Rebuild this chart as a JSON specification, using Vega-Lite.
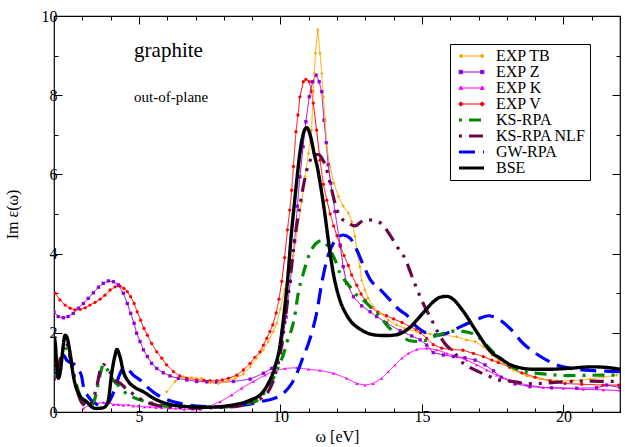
{
"$schema": "https://vega.github.io/schema/vega-lite/v6.json",
"width": 566, "height": 396,
"autosize": {"type": "none"},
"padding": {"left": 54, "top": 16, "right": 5, "bottom": 35},
"background": "white",
"config": {"font": "Liberation Serif", "view": {"stroke": "black", "strokeWidth": 1.2}},
"datasets": {"d": [
{"s":"BSE","x":2.0,"y":1.9},{"s":"BSE","x":2.05,"y":1.7},{"s":"BSE","x":2.1,"y":1.14},{"s":"BSE","x":2.15,"y":0.85},{"s":"BSE","x":2.22,"y":1.0},{"s":"BSE","x":2.3,"y":1.5},{"s":"BSE","x":2.39,"y":1.94},{"s":"BSE","x":2.45,"y":1.9},{"s":"BSE","x":2.57,"y":1.48},{"s":"BSE","x":2.68,"y":0.93},{"s":"BSE","x":2.78,"y":0.62},{"s":"BSE","x":2.86,"y":0.47},{"s":"BSE","x":2.98,"y":0.35},{"s":"BSE","x":3.15,"y":0.26},{"s":"BSE","x":3.33,"y":0.13},{"s":"BSE","x":3.5,"y":0.09},{"s":"BSE","x":3.7,"y":0.1},{"s":"BSE","x":3.83,"y":0.15},{"s":"BSE","x":3.92,"y":0.3},{"s":"BSE","x":4.04,"y":0.98},{"s":"BSE","x":4.16,"y":1.44},{"s":"BSE","x":4.22,"y":1.58},{"s":"BSE","x":4.33,"y":1.4},{"s":"BSE","x":4.45,"y":1.02},{"s":"BSE","x":4.63,"y":0.77},{"s":"BSE","x":4.86,"y":0.62},{"s":"BSE","x":5.16,"y":0.51},{"s":"BSE","x":5.51,"y":0.35},{"s":"BSE","x":5.86,"y":0.24},{"s":"BSE","x":6.45,"y":0.15},{"s":"BSE","x":7.4,"y":0.12},{"s":"BSE","x":8.34,"y":0.18},{"s":"BSE","x":8.93,"y":0.3},{"s":"BSE","x":9.34,"y":0.47},{"s":"BSE","x":9.57,"y":0.72},{"s":"BSE","x":9.81,"y":1.14},{"s":"BSE","x":10.0,"y":1.75},{"s":"BSE","x":10.1,"y":2.3},{"s":"BSE","x":10.25,"y":3.3},{"s":"BSE","x":10.4,"y":4.6},{"s":"BSE","x":10.46,"y":5.02},{"s":"BSE","x":10.58,"y":5.86},{"s":"BSE","x":10.7,"y":6.6},{"s":"BSE","x":10.8,"y":7.0},{"s":"BSE","x":10.93,"y":7.18},{"s":"BSE","x":11.05,"y":7.0},{"s":"BSE","x":11.2,"y":6.5},{"s":"BSE","x":11.3,"y":6.2},{"s":"BSE","x":11.4,"y":5.8},{"s":"BSE","x":11.5,"y":5.35},{"s":"BSE","x":11.58,"y":4.95},{"s":"BSE","x":11.7,"y":4.3},{"s":"BSE","x":11.87,"y":3.5},{"s":"BSE","x":12.1,"y":2.83},{"s":"BSE","x":12.3,"y":2.5},{"s":"BSE","x":12.5,"y":2.28},{"s":"BSE","x":12.8,"y":2.1},{"s":"BSE","x":13.05,"y":2.0},{"s":"BSE","x":13.4,"y":1.94},{"s":"BSE","x":13.7,"y":1.93},{"s":"BSE","x":14.0,"y":1.94},{"s":"BSE","x":14.3,"y":2.0},{"s":"BSE","x":14.6,"y":2.15},{"s":"BSE","x":14.82,"y":2.32},{"s":"BSE","x":15.1,"y":2.55},{"s":"BSE","x":15.4,"y":2.78},{"s":"BSE","x":15.65,"y":2.9},{"s":"BSE","x":15.88,"y":2.92},{"s":"BSE","x":16.1,"y":2.85},{"s":"BSE","x":16.35,"y":2.65},{"s":"BSE","x":16.6,"y":2.4},{"s":"BSE","x":16.82,"y":2.15},{"s":"BSE","x":17.05,"y":1.9},{"s":"BSE","x":17.29,"y":1.65},{"s":"BSE","x":17.5,"y":1.48},{"s":"BSE","x":17.76,"y":1.36},{"s":"BSE","x":18.05,"y":1.22},{"s":"BSE","x":18.35,"y":1.14},{"s":"BSE","x":18.94,"y":1.08},{"s":"BSE","x":19.5,"y":1.08},{"s":"BSE","x":20.12,"y":1.1},{"s":"BSE","x":21.05,"y":1.14},{"s":"BSE","x":21.6,"y":1.12},{"s":"BSE","x":22.0,"y":1.08},
{"s":"EXP V","x":2.04,"y":3.0},{"s":"EXP V","x":2.21,"y":2.83},{"s":"EXP V","x":2.39,"y":2.7},{"s":"EXP V","x":2.57,"y":2.62},{"s":"EXP V","x":2.74,"y":2.58},{"s":"EXP V","x":2.92,"y":2.59},{"s":"EXP V","x":3.1,"y":2.63},{"s":"EXP V","x":3.27,"y":2.7},{"s":"EXP V","x":3.45,"y":2.77},{"s":"EXP V","x":3.63,"y":2.85},{"s":"EXP V","x":3.8,"y":2.95},{"s":"EXP V","x":3.98,"y":3.08},{"s":"EXP V","x":4.16,"y":3.16},{"s":"EXP V","x":4.33,"y":3.18},{"s":"EXP V","x":4.47,"y":3.12},{"s":"EXP V","x":4.59,"y":3.04},{"s":"EXP V","x":4.71,"y":2.91},{"s":"EXP V","x":4.83,"y":2.74},{"s":"EXP V","x":4.94,"y":2.53},{"s":"EXP V","x":5.06,"y":2.32},{"s":"EXP V","x":5.18,"y":2.11},{"s":"EXP V","x":5.3,"y":1.94},{"s":"EXP V","x":5.45,"y":1.73},{"s":"EXP V","x":5.63,"y":1.52},{"s":"EXP V","x":5.81,"y":1.36},{"s":"EXP V","x":5.98,"y":1.19},{"s":"EXP V","x":6.22,"y":1.02},{"s":"EXP V","x":6.45,"y":0.91},{"s":"EXP V","x":6.69,"y":0.85},{"s":"EXP V","x":7.04,"y":0.81},{"s":"EXP V","x":7.3,"y":0.8},{"s":"EXP V","x":7.51,"y":0.79},{"s":"EXP V","x":7.75,"y":0.79},{"s":"EXP V","x":7.95,"y":0.81},{"s":"EXP V","x":8.16,"y":0.85},{"s":"EXP V","x":8.46,"y":0.93},{"s":"EXP V","x":8.69,"y":1.06},{"s":"EXP V","x":8.93,"y":1.23},{"s":"EXP V","x":9.1,"y":1.38},{"s":"EXP V","x":9.28,"y":1.52},{"s":"EXP V","x":9.4,"y":1.69},{"s":"EXP V","x":9.52,"y":1.86},{"s":"EXP V","x":9.63,"y":2.03},{"s":"EXP V","x":9.73,"y":2.2},{"s":"EXP V","x":9.85,"y":2.5},{"s":"EXP V","x":9.95,"y":2.85},{"s":"EXP V","x":10.05,"y":3.3},{"s":"EXP V","x":10.15,"y":3.9},{"s":"EXP V","x":10.25,"y":4.6},{"s":"EXP V","x":10.33,"y":5.1},{"s":"EXP V","x":10.4,"y":5.6},{"s":"EXP V","x":10.46,"y":6.2},{"s":"EXP V","x":10.55,"y":7.08},{"s":"EXP V","x":10.62,"y":7.5},{"s":"EXP V","x":10.69,"y":7.96},{"s":"EXP V","x":10.81,"y":8.34},{"s":"EXP V","x":10.9,"y":8.4},{"s":"EXP V","x":11.02,"y":8.34},{"s":"EXP V","x":11.1,"y":8.1},{"s":"EXP V","x":11.16,"y":7.8},{"s":"EXP V","x":11.28,"y":7.12},{"s":"EXP V","x":11.4,"y":6.36},{"s":"EXP V","x":11.52,"y":5.75},{"s":"EXP V","x":11.64,"y":5.35},{"s":"EXP V","x":11.76,"y":5.0},{"s":"EXP V","x":11.88,"y":4.7},{"s":"EXP V","x":12.0,"y":4.45},{"s":"EXP V","x":12.12,"y":4.18},{"s":"EXP V","x":12.25,"y":3.95},{"s":"EXP V","x":12.4,"y":3.7},{"s":"EXP V","x":12.52,"y":3.46},{"s":"EXP V","x":12.7,"y":3.2},{"s":"EXP V","x":12.85,"y":2.98},{"s":"EXP V","x":13.0,"y":2.82},{"s":"EXP V","x":13.2,"y":2.65},{"s":"EXP V","x":13.45,"y":2.52},{"s":"EXP V","x":13.75,"y":2.43},{"s":"EXP V","x":14.0,"y":2.35},{"s":"EXP V","x":14.3,"y":2.26},{"s":"EXP V","x":14.6,"y":2.15},{"s":"EXP V","x":14.8,"y":2.08},{"s":"EXP V","x":14.95,"y":2.0},{"s":"EXP V","x":15.17,"y":1.86},{"s":"EXP V","x":15.4,"y":1.7},{"s":"EXP V","x":15.7,"y":1.61},{"s":"EXP V","x":16.05,"y":1.58},{"s":"EXP V","x":16.45,"y":1.56},{"s":"EXP V","x":16.82,"y":1.48},{"s":"EXP V","x":17.17,"y":1.4},{"s":"EXP V","x":17.47,"y":1.31},{"s":"EXP V","x":17.7,"y":1.25},{"s":"EXP V","x":18.1,"y":1.13},{"s":"EXP V","x":18.53,"y":0.99},{"s":"EXP V","x":19.0,"y":0.88},{"s":"EXP V","x":19.53,"y":0.79},{"s":"EXP V","x":20.06,"y":0.72},{"s":"EXP V","x":20.65,"y":0.7},{"s":"EXP V","x":21.4,"y":0.68},{"s":"EXP V","x":21.95,"y":0.68},
{"s":"EXP Z","x":2.0,"y":2.53},{"s":"EXP Z","x":2.15,"y":2.41},{"s":"EXP Z","x":2.33,"y":2.38},{"s":"EXP Z","x":2.5,"y":2.41},{"s":"EXP Z","x":2.68,"y":2.49},{"s":"EXP Z","x":2.86,"y":2.62},{"s":"EXP Z","x":3.04,"y":2.74},{"s":"EXP Z","x":3.21,"y":2.87},{"s":"EXP Z","x":3.39,"y":3.01},{"s":"EXP Z","x":3.57,"y":3.15},{"s":"EXP Z","x":3.74,"y":3.25},{"s":"EXP Z","x":3.92,"y":3.31},{"s":"EXP Z","x":4.1,"y":3.29},{"s":"EXP Z","x":4.27,"y":3.21},{"s":"EXP Z","x":4.45,"y":3.0},{"s":"EXP Z","x":4.59,"y":2.74},{"s":"EXP Z","x":4.71,"y":2.49},{"s":"EXP Z","x":4.83,"y":2.24},{"s":"EXP Z","x":4.92,"y":1.99},{"s":"EXP Z","x":5.04,"y":1.78},{"s":"EXP Z","x":5.16,"y":1.57},{"s":"EXP Z","x":5.3,"y":1.4},{"s":"EXP Z","x":5.45,"y":1.23},{"s":"EXP Z","x":5.63,"y":1.1},{"s":"EXP Z","x":5.86,"y":0.99},{"s":"EXP Z","x":6.1,"y":0.91},{"s":"EXP Z","x":6.39,"y":0.85},{"s":"EXP Z","x":6.69,"y":0.81},{"s":"EXP Z","x":7.04,"y":0.77},{"s":"EXP Z","x":7.4,"y":0.76},{"s":"EXP Z","x":7.75,"y":0.75},{"s":"EXP Z","x":8.34,"y":0.77},{"s":"EXP Z","x":8.93,"y":0.83},{"s":"EXP Z","x":9.4,"y":0.98},{"s":"EXP Z","x":9.69,"y":1.1},{"s":"EXP Z","x":9.9,"y":1.3},{"s":"EXP Z","x":10.05,"y":1.7},{"s":"EXP Z","x":10.2,"y":2.4},{"s":"EXP Z","x":10.35,"y":3.3},{"s":"EXP Z","x":10.5,"y":4.3},{"s":"EXP Z","x":10.6,"y":5.2},{"s":"EXP Z","x":10.69,"y":5.94},{"s":"EXP Z","x":10.8,"y":6.7},{"s":"EXP Z","x":10.9,"y":7.33},{"s":"EXP Z","x":11.02,"y":7.96},{"s":"EXP Z","x":11.14,"y":8.34},{"s":"EXP Z","x":11.26,"y":8.51},{"s":"EXP Z","x":11.37,"y":8.34},{"s":"EXP Z","x":11.46,"y":8.09},{"s":"EXP Z","x":11.54,"y":7.37},{"s":"EXP Z","x":11.62,"y":6.8},{"s":"EXP Z","x":11.69,"y":6.24},{"s":"EXP Z","x":11.78,"y":5.78},{"s":"EXP Z","x":11.93,"y":5.06},{"s":"EXP Z","x":12.11,"y":4.22},{"s":"EXP Z","x":12.22,"y":3.67},{"s":"EXP Z","x":12.34,"y":3.25},{"s":"EXP Z","x":12.58,"y":2.91},{"s":"EXP Z","x":12.87,"y":2.68},{"s":"EXP Z","x":13.17,"y":2.53},{"s":"EXP Z","x":13.4,"y":2.41},{"s":"EXP Z","x":13.75,"y":2.25},{"s":"EXP Z","x":14.23,"y":2.05},{"s":"EXP Z","x":14.64,"y":1.92},{"s":"EXP Z","x":14.94,"y":1.82},{"s":"EXP Z","x":15.17,"y":1.69},{"s":"EXP Z","x":15.4,"y":1.5},{"s":"EXP Z","x":15.76,"y":1.44},{"s":"EXP Z","x":16.11,"y":1.4},{"s":"EXP Z","x":16.52,"y":1.37},{"s":"EXP Z","x":16.88,"y":1.31},{"s":"EXP Z","x":17.23,"y":1.19},{"s":"EXP Z","x":17.53,"y":1.04},{"s":"EXP Z","x":17.8,"y":0.88},{"s":"EXP Z","x":18.29,"y":0.71},{"s":"EXP Z","x":18.82,"y":0.64},{"s":"EXP Z","x":19.58,"y":0.61},{"s":"EXP Z","x":20.47,"y":0.6},{"s":"EXP Z","x":21.17,"y":0.61},{"s":"EXP Z","x":21.53,"y":0.68},{"s":"EXP Z","x":22.0,"y":0.62},
{"s":"EXP TB","x":5.98,"y":0.51},{"s":"EXP TB","x":6.28,"y":0.77},{"s":"EXP TB","x":6.57,"y":0.89},{"s":"EXP TB","x":6.87,"y":0.87},{"s":"EXP TB","x":7.22,"y":0.85},{"s":"EXP TB","x":7.51,"y":0.74},{"s":"EXP TB","x":7.8,"y":0.72},{"s":"EXP TB","x":8.1,"y":0.77},{"s":"EXP TB","x":8.4,"y":0.85},{"s":"EXP TB","x":8.69,"y":0.96},{"s":"EXP TB","x":8.93,"y":1.14},{"s":"EXP TB","x":9.16,"y":1.36},{"s":"EXP TB","x":9.4,"y":1.57},{"s":"EXP TB","x":9.57,"y":1.78},{"s":"EXP TB","x":9.75,"y":2.03},{"s":"EXP TB","x":9.87,"y":2.24},{"s":"EXP TB","x":10.0,"y":2.6},{"s":"EXP TB","x":10.15,"y":3.1},{"s":"EXP TB","x":10.3,"y":3.55},{"s":"EXP TB","x":10.46,"y":3.95},{"s":"EXP TB","x":10.6,"y":4.6},{"s":"EXP TB","x":10.75,"y":5.31},{"s":"EXP TB","x":10.87,"y":5.94},{"s":"EXP TB","x":10.99,"y":6.53},{"s":"EXP TB","x":11.1,"y":7.12},{"s":"EXP TB","x":11.16,"y":8.09},{"s":"EXP TB","x":11.2,"y":8.55},{"s":"EXP TB","x":11.24,"y":9.06},{"s":"EXP TB","x":11.32,"y":9.65},{"s":"EXP TB","x":11.4,"y":9.06},{"s":"EXP TB","x":11.46,"y":8.55},{"s":"EXP TB","x":11.52,"y":7.96},{"s":"EXP TB","x":11.58,"y":7.37},{"s":"EXP TB","x":11.64,"y":6.7},{"s":"EXP TB","x":11.75,"y":6.2},{"s":"EXP TB","x":11.89,"y":5.78},{"s":"EXP TB","x":12.05,"y":5.44},{"s":"EXP TB","x":12.22,"y":5.2},{"s":"EXP TB","x":12.4,"y":5.02},{"s":"EXP TB","x":12.52,"y":4.81},{"s":"EXP TB","x":12.64,"y":4.43},{"s":"EXP TB","x":12.7,"y":4.05},{"s":"EXP TB","x":12.81,"y":3.67},{"s":"EXP TB","x":12.87,"y":3.33},{"s":"EXP TB","x":12.99,"y":3.08},{"s":"EXP TB","x":13.1,"y":2.87},{"s":"EXP TB","x":13.28,"y":2.66},{"s":"EXP TB","x":13.52,"y":2.5},{"s":"EXP TB","x":13.81,"y":2.32},{"s":"EXP TB","x":14.1,"y":2.2},{"s":"EXP TB","x":14.4,"y":2.11},{"s":"EXP TB","x":14.82,"y":2.03},{"s":"EXP TB","x":15.29,"y":1.97},{"s":"EXP TB","x":15.76,"y":1.94},{"s":"EXP TB","x":16.23,"y":1.9},{"s":"EXP TB","x":16.58,"y":1.82},{"s":"EXP TB","x":16.88,"y":1.78},{"s":"EXP TB","x":17.17,"y":1.65},{"s":"EXP TB","x":17.47,"y":1.44},{"s":"EXP TB","x":17.7,"y":1.31},{"s":"EXP TB","x":17.88,"y":1.22},{"s":"EXP TB","x":18.23,"y":1.06},{"s":"EXP TB","x":18.7,"y":0.91},{"s":"EXP TB","x":19.17,"y":0.83},{"s":"EXP TB","x":19.76,"y":0.79},{"s":"EXP TB","x":20.35,"y":0.79},{"s":"EXP TB","x":20.94,"y":0.83},{"s":"EXP TB","x":21.41,"y":0.88},{"s":"EXP TB","x":21.88,"y":0.93},
{"s":"EXP K","x":3.04,"y":0.09},{"s":"EXP K","x":3.25,"y":0.18},{"s":"EXP K","x":3.51,"y":0.22},{"s":"EXP K","x":3.75,"y":0.24},{"s":"EXP K","x":3.92,"y":0.24},{"s":"EXP K","x":4.1,"y":0.19},{"s":"EXP K","x":4.27,"y":0.19},{"s":"EXP K","x":4.45,"y":0.17},{"s":"EXP K","x":4.63,"y":0.18},{"s":"EXP K","x":4.8,"y":0.15},{"s":"EXP K","x":4.98,"y":0.15},{"s":"EXP K","x":5.2,"y":0.13},{"s":"EXP K","x":5.39,"y":0.13},{"s":"EXP K","x":5.6,"y":0.11},{"s":"EXP K","x":5.8,"y":0.11},{"s":"EXP K","x":6.05,"y":0.1},{"s":"EXP K","x":6.3,"y":0.09},{"s":"EXP K","x":6.6,"y":0.07},{"s":"EXP K","x":6.9,"y":0.07},{"s":"EXP K","x":7.16,"y":0.07},{"s":"EXP K","x":7.4,"y":0.12},{"s":"EXP K","x":7.87,"y":0.26},{"s":"EXP K","x":8.28,"y":0.43},{"s":"EXP K","x":8.63,"y":0.6},{"s":"EXP K","x":9.04,"y":0.77},{"s":"EXP K","x":9.46,"y":0.93},{"s":"EXP K","x":9.81,"y":1.04},{"s":"EXP K","x":10.16,"y":1.1},{"s":"EXP K","x":10.58,"y":1.12},{"s":"EXP K","x":10.99,"y":1.08},{"s":"EXP K","x":11.4,"y":1.05},{"s":"EXP K","x":11.87,"y":0.98},{"s":"EXP K","x":12.34,"y":0.85},{"s":"EXP K","x":12.7,"y":0.72},{"s":"EXP K","x":12.99,"y":0.68},{"s":"EXP K","x":13.28,"y":0.72},{"s":"EXP K","x":13.58,"y":0.85},{"s":"EXP K","x":13.81,"y":1.02},{"s":"EXP K","x":14.05,"y":1.19},{"s":"EXP K","x":14.29,"y":1.36},{"s":"EXP K","x":14.52,"y":1.48},{"s":"EXP K","x":14.82,"y":1.58},{"s":"EXP K","x":15.17,"y":1.61},{"s":"EXP K","x":15.52,"y":1.57},{"s":"EXP K","x":15.88,"y":1.48},{"s":"EXP K","x":16.23,"y":1.4},{"s":"EXP K","x":16.58,"y":1.31},{"s":"EXP K","x":16.94,"y":1.19},{"s":"EXP K","x":17.29,"y":1.06},{"s":"EXP K","x":17.64,"y":0.93},{"s":"EXP K","x":18.11,"y":0.81},{"s":"EXP K","x":18.7,"y":0.68},{"s":"EXP K","x":19.29,"y":0.62},{"s":"EXP K","x":20.0,"y":0.6},{"s":"EXP K","x":20.7,"y":0.57},{"s":"EXP K","x":21.41,"y":0.56},{"s":"EXP K","x":22.0,"y":0.54},
{"s":"GW-RPA","x":2.0,"y":0.89},{"s":"GW-RPA","x":2.1,"y":1.0},{"s":"GW-RPA","x":2.2,"y":1.25},{"s":"GW-RPA","x":2.33,"y":1.44},{"s":"GW-RPA","x":2.45,"y":1.31},{"s":"GW-RPA","x":2.62,"y":1.23},{"s":"GW-RPA","x":2.74,"y":1.19},{"s":"GW-RPA","x":2.88,"y":1.05},{"s":"GW-RPA","x":2.98,"y":0.89},{"s":"GW-RPA","x":3.04,"y":0.64},{"s":"GW-RPA","x":3.21,"y":0.39},{"s":"GW-RPA","x":3.45,"y":0.22},{"s":"GW-RPA","x":3.74,"y":0.15},{"s":"GW-RPA","x":3.98,"y":0.3},{"s":"GW-RPA","x":4.16,"y":0.6},{"s":"GW-RPA","x":4.31,"y":0.93},{"s":"GW-RPA","x":4.45,"y":1.1},{"s":"GW-RPA","x":4.6,"y":1.08},{"s":"GW-RPA","x":4.8,"y":0.93},{"s":"GW-RPA","x":5.04,"y":0.81},{"s":"GW-RPA","x":5.28,"y":0.64},{"s":"GW-RPA","x":5.57,"y":0.47},{"s":"GW-RPA","x":5.86,"y":0.35},{"s":"GW-RPA","x":6.22,"y":0.26},{"s":"GW-RPA","x":6.57,"y":0.2},{"s":"GW-RPA","x":7.04,"y":0.15},{"s":"GW-RPA","x":7.75,"y":0.13},{"s":"GW-RPA","x":8.34,"y":0.15},{"s":"GW-RPA","x":8.93,"y":0.2},{"s":"GW-RPA","x":9.28,"y":0.26},{"s":"GW-RPA","x":9.81,"y":0.35},{"s":"GW-RPA","x":10.16,"y":0.51},{"s":"GW-RPA","x":10.4,"y":0.72},{"s":"GW-RPA","x":10.63,"y":1.06},{"s":"GW-RPA","x":10.81,"y":1.4},{"s":"GW-RPA","x":10.99,"y":1.73},{"s":"GW-RPA","x":11.1,"y":1.98},{"s":"GW-RPA","x":11.28,"y":2.5},{"s":"GW-RPA","x":11.46,"y":3.25},{"s":"GW-RPA","x":11.64,"y":3.84},{"s":"GW-RPA","x":11.87,"y":4.26},{"s":"GW-RPA","x":12.05,"y":4.42},{"s":"GW-RPA","x":12.22,"y":4.47},{"s":"GW-RPA","x":12.46,"y":4.39},{"s":"GW-RPA","x":12.7,"y":4.09},{"s":"GW-RPA","x":12.93,"y":3.71},{"s":"GW-RPA","x":13.17,"y":3.35},{"s":"GW-RPA","x":13.52,"y":3.1},{"s":"GW-RPA","x":13.87,"y":2.83},{"s":"GW-RPA","x":14.2,"y":2.58},{"s":"GW-RPA","x":14.46,"y":2.45},{"s":"GW-RPA","x":14.82,"y":2.15},{"s":"GW-RPA","x":15.17,"y":1.99},{"s":"GW-RPA","x":15.58,"y":1.94},{"s":"GW-RPA","x":15.88,"y":1.99},{"s":"GW-RPA","x":16.35,"y":2.15},{"s":"GW-RPA","x":16.76,"y":2.28},{"s":"GW-RPA","x":17.05,"y":2.37},{"s":"GW-RPA","x":17.35,"y":2.43},{"s":"GW-RPA","x":17.6,"y":2.38},{"s":"GW-RPA","x":17.76,"y":2.32},{"s":"GW-RPA","x":18.11,"y":2.11},{"s":"GW-RPA","x":18.58,"y":1.73},{"s":"GW-RPA","x":18.94,"y":1.52},{"s":"GW-RPA","x":19.41,"y":1.31},{"s":"GW-RPA","x":19.88,"y":1.16},{"s":"GW-RPA","x":20.47,"y":1.08},{"s":"GW-RPA","x":21.17,"y":1.04},{"s":"GW-RPA","x":22.0,"y":1.02},
{"s":"KS-RPA","x":2.0,"y":0.9},{"s":"KS-RPA","x":2.2,"y":1.2},{"s":"KS-RPA","x":2.42,"y":1.6},{"s":"KS-RPA","x":2.6,"y":1.3},{"s":"KS-RPA","x":2.75,"y":0.8},{"s":"KS-RPA","x":2.9,"y":0.45},{"s":"KS-RPA","x":3.1,"y":0.22},{"s":"KS-RPA","x":3.3,"y":0.15},{"s":"KS-RPA","x":3.45,"y":0.35},{"s":"KS-RPA","x":3.6,"y":0.85},{"s":"KS-RPA","x":3.75,"y":1.2},{"s":"KS-RPA","x":3.9,"y":1.05},{"s":"KS-RPA","x":4.1,"y":0.8},{"s":"KS-RPA","x":4.3,"y":0.65},{"s":"KS-RPA","x":4.5,"y":0.5},{"s":"KS-RPA","x":4.8,"y":0.37},{"s":"KS-RPA","x":5.2,"y":0.27},{"s":"KS-RPA","x":5.6,"y":0.2},{"s":"KS-RPA","x":6.0,"y":0.15},{"s":"KS-RPA","x":7.0,"y":0.12},{"s":"KS-RPA","x":8.0,"y":0.13},{"s":"KS-RPA","x":8.6,"y":0.18},{"s":"KS-RPA","x":9.1,"y":0.26},{"s":"KS-RPA","x":9.46,"y":0.51},{"s":"KS-RPA","x":9.75,"y":0.85},{"s":"KS-RPA","x":9.93,"y":1.14},{"s":"KS-RPA","x":10.1,"y":1.44},{"s":"KS-RPA","x":10.24,"y":1.78},{"s":"KS-RPA","x":10.4,"y":2.1},{"s":"KS-RPA","x":10.5,"y":2.4},{"s":"KS-RPA","x":10.63,"y":3.0},{"s":"KS-RPA","x":10.81,"y":3.5},{"s":"KS-RPA","x":10.99,"y":3.92},{"s":"KS-RPA","x":11.16,"y":4.17},{"s":"KS-RPA","x":11.34,"y":4.3},{"s":"KS-RPA","x":11.45,"y":4.33},{"s":"KS-RPA","x":11.6,"y":4.25},{"s":"KS-RPA","x":11.75,"y":4.1},{"s":"KS-RPA","x":11.93,"y":3.84},{"s":"KS-RPA","x":12.11,"y":3.5},{"s":"KS-RPA","x":12.3,"y":3.3},{"s":"KS-RPA","x":12.46,"y":3.16},{"s":"KS-RPA","x":12.7,"y":2.95},{"s":"KS-RPA","x":12.99,"y":2.79},{"s":"KS-RPA","x":13.28,"y":2.58},{"s":"KS-RPA","x":13.52,"y":2.41},{"s":"KS-RPA","x":13.81,"y":2.15},{"s":"KS-RPA","x":14.0,"y":2.03},{"s":"KS-RPA","x":14.23,"y":1.94},{"s":"KS-RPA","x":14.58,"y":1.8},{"s":"KS-RPA","x":14.85,"y":1.78},{"s":"KS-RPA","x":15.1,"y":1.8},{"s":"KS-RPA","x":15.4,"y":1.9},{"s":"KS-RPA","x":15.88,"y":2.01},{"s":"KS-RPA","x":16.23,"y":2.05},{"s":"KS-RPA","x":16.7,"y":2.0},{"s":"KS-RPA","x":17.05,"y":1.86},{"s":"KS-RPA","x":17.29,"y":1.68},{"s":"KS-RPA","x":17.6,"y":1.45},{"s":"KS-RPA","x":18.0,"y":1.23},{"s":"KS-RPA","x":18.58,"y":1.02},{"s":"KS-RPA","x":19.17,"y":0.97},{"s":"KS-RPA","x":20.12,"y":0.92},{"s":"KS-RPA","x":21.3,"y":0.93},{"s":"KS-RPA","x":22.0,"y":0.93},
{"s":"KS-RPA NLF","x":2.0,"y":0.8},{"s":"KS-RPA NLF","x":2.2,"y":1.3},{"s":"KS-RPA NLF","x":2.42,"y":1.75},{"s":"KS-RPA NLF","x":2.6,"y":1.3},{"s":"KS-RPA NLF","x":2.8,"y":0.6},{"s":"KS-RPA NLF","x":3.0,"y":0.22},{"s":"KS-RPA NLF","x":3.2,"y":0.15},{"s":"KS-RPA NLF","x":3.35,"y":0.28},{"s":"KS-RPA NLF","x":3.51,"y":0.64},{"s":"KS-RPA NLF","x":3.65,"y":1.1},{"s":"KS-RPA NLF","x":3.75,"y":1.2},{"s":"KS-RPA NLF","x":3.9,"y":1.05},{"s":"KS-RPA NLF","x":4.05,"y":0.95},{"s":"KS-RPA NLF","x":4.16,"y":0.8},{"s":"KS-RPA NLF","x":4.35,"y":0.72},{"s":"KS-RPA NLF","x":4.5,"y":0.62},{"s":"KS-RPA NLF","x":4.69,"y":0.51},{"s":"KS-RPA NLF","x":5.0,"y":0.35},{"s":"KS-RPA NLF","x":5.57,"y":0.18},{"s":"KS-RPA NLF","x":6.0,"y":0.13},{"s":"KS-RPA NLF","x":7.0,"y":0.1},{"s":"KS-RPA NLF","x":8.0,"y":0.12},{"s":"KS-RPA NLF","x":8.5,"y":0.15},{"s":"KS-RPA NLF","x":9.0,"y":0.25},{"s":"KS-RPA NLF","x":9.5,"y":0.45},{"s":"KS-RPA NLF","x":9.8,"y":0.9},{"s":"KS-RPA NLF","x":10.0,"y":1.5},{"s":"KS-RPA NLF","x":10.2,"y":2.5},{"s":"KS-RPA NLF","x":10.4,"y":3.7},{"s":"KS-RPA NLF","x":10.55,"y":4.6},{"s":"KS-RPA NLF","x":10.69,"y":5.2},{"s":"KS-RPA NLF","x":10.81,"y":5.7},{"s":"KS-RPA NLF","x":10.93,"y":6.1},{"s":"KS-RPA NLF","x":11.05,"y":6.35},{"s":"KS-RPA NLF","x":11.2,"y":6.5},{"s":"KS-RPA NLF","x":11.35,"y":6.5},{"s":"KS-RPA NLF","x":11.46,"y":6.42},{"s":"KS-RPA NLF","x":11.6,"y":6.2},{"s":"KS-RPA NLF","x":11.75,"y":5.8},{"s":"KS-RPA NLF","x":11.9,"y":5.35},{"s":"KS-RPA NLF","x":12.0,"y":5.1},{"s":"KS-RPA NLF","x":12.15,"y":4.9},{"s":"KS-RPA NLF","x":12.34,"y":4.8},{"s":"KS-RPA NLF","x":12.64,"y":4.7},{"s":"KS-RPA NLF","x":12.85,"y":4.8},{"s":"KS-RPA NLF","x":13.1,"y":4.85},{"s":"KS-RPA NLF","x":13.35,"y":4.83},{"s":"KS-RPA NLF","x":13.58,"y":4.75},{"s":"KS-RPA NLF","x":13.87,"y":4.47},{"s":"KS-RPA NLF","x":14.1,"y":4.2},{"s":"KS-RPA NLF","x":14.4,"y":3.88},{"s":"KS-RPA NLF","x":14.7,"y":3.33},{"s":"KS-RPA NLF","x":14.94,"y":2.91},{"s":"KS-RPA NLF","x":15.1,"y":2.66},{"s":"KS-RPA NLF","x":15.35,"y":2.32},{"s":"KS-RPA NLF","x":15.52,"y":2.07},{"s":"KS-RPA NLF","x":15.81,"y":1.73},{"s":"KS-RPA NLF","x":16.17,"y":1.48},{"s":"KS-RPA NLF","x":16.46,"y":1.23},{"s":"KS-RPA NLF","x":16.76,"y":1.1},{"s":"KS-RPA NLF","x":17.29,"y":0.93},{"s":"KS-RPA NLF","x":17.7,"y":0.81},{"s":"KS-RPA NLF","x":18.23,"y":0.77},{"s":"KS-RPA NLF","x":18.7,"y":0.72},{"s":"KS-RPA NLF","x":19.17,"y":0.72},{"s":"KS-RPA NLF","x":19.6,"y":0.74},{"s":"KS-RPA NLF","x":20.12,"y":0.77},{"s":"KS-RPA NLF","x":20.6,"y":0.78},{"s":"KS-RPA NLF","x":21.05,"y":0.78},{"s":"KS-RPA NLF","x":21.53,"y":0.77},{"s":"KS-RPA NLF","x":22.0,"y":0.78}
]},
"data": {"name": "d"},
"resolve": {"axis": {"x": "independent", "y": "independent"}},
"layer": [
{
 "transform": [{"filter": {"field": "s", "oneOf": ["EXP TB","EXP Z","EXP K","EXP V"]}}],
 "mark": {"type": "line", "clip": true, "strokeWidth": 1},
 "encoding": {
  "x": {"field": "x", "type": "quantitative", "scale": {"domain": [2,22], "nice": false, "zero": false},
   "axis": {"orient": "bottom", "values": [2,3,4,5,6,7,8,9,10,11,12,13,14,15,16,17,18,19,20,21,22], "labelExpr": "datum.value % 5 === 0 ? datum.label : ''", "ticks": true, "tickSize": -8, "tickDash": {"condition": {"test": "datum.value % 5 === 0", "value": [8,0]}, "value": [4,20]}, "tickColor": "black", "tickWidth": 1, "domain": false, "grid": false, "title": "ω [eV]", "labelFontSize": 16, "labelColor": "black", "labelPadding": 4, "labelFlush": false, "labelOverlap": false, "titleFontSize": 16, "titleFontWeight": "normal", "titleColor": "black", "titlePadding": 4}},
  "y": {"field": "y", "type": "quantitative", "scale": {"domain": [0,10], "nice": false, "zero": false},
   "axis": {"orient": "left", "values": [0,1,2,3,4,5,6,7,8,9,10], "labelExpr": "datum.value % 2 === 0 ? datum.label : ''", "ticks": true, "tickSize": -8, "tickDash": {"condition": {"test": "datum.value % 2 === 0", "value": [8,0]}, "value": [4,20]}, "tickColor": "black", "tickWidth": 1, "domain": false, "grid": false, "title": "Im ε(ω)", "labelFontSize": 16, "labelColor": "black", "labelPadding": 5, "labelOverlap": false, "titleFontSize": 16, "titleFontWeight": "normal", "titleColor": "black", "titleX": -42, "titleY": 198, "titleAngle": -90, "titleAlign": "center", "titleBaseline": "middle"}},
  "color": {"field": "s", "type": "nominal",
   "scale": {"domain": ["EXP TB","EXP Z","EXP K","EXP V","KS-RPA","KS-RPA NLF","GW-RPA","BSE"], "range": ["#ffa500","#9400d3","#ff00ff","#ff0000","#008b00","#670748","#0000ff","#000000"]},
   "legend": {"title": null, "orient": "none", "legendX": 396, "legendY": 28, "padding": 4, "strokeColor": "black", "fillColor": "white", "labelFont": "Liberation Serif", "labelFontSize": 16, "labelColor": "black", "labelOffset": 26, "rowPadding": 0, "symbolSize": 144, "symbolType": "M-0.5,0H3.67", "labelLimit": 200,
    "encode": {"symbols": {"update": {
     "shape": {"signal": "datum.value === 'EXP TB' ? 'M-0.5,0H3.67M-0.2,-0.32L0.1,0L-0.2,0.32L-0.5,0ZM3.37,-0.32L3.67,0L3.37,0.32L3.07,0Z' : datum.value === 'EXP Z' ? 'M-0.5,0H3.67M-0.48,-0.28H0.08V0.28H-0.48ZM3.09,-0.28H3.65V0.28H3.09Z' : datum.value === 'EXP K' ? 'M-0.5,0H3.67M-0.2,-0.34L0.12,0.24H-0.52ZM3.37,-0.34L3.69,0.24H3.05Z' : datum.value === 'EXP V' ? 'M-0.5,0H3.67M-0.5,0A0.3,0.3,0,1,0,0.1,0A0.3,0.3,0,1,0,-0.5,0ZM3.07,0A0.3,0.3,0,1,0,3.67,0A0.3,0.3,0,1,0,3.07,0Z' : 'M-0.5,0H3.67'"},
     "fill": {"signal": "indexof(['EXP TB','EXP Z','EXP K','EXP V'], datum.value) >= 0 ? scale('color', datum.value) : 'transparent'"},
     "strokeWidth": {"signal": "indexof(['EXP TB','EXP Z','EXP K','EXP V'], datum.value) >= 0 ? 1 : 3.2"}
    }}}}},
  "strokeDash": {"field": "s", "type": "nominal", "scale": {"domain": ["EXP TB","EXP Z","EXP K","EXP V","KS-RPA","KS-RPA NLF","GW-RPA","BSE"], "range": [[1,0],[1,0],[1,0],[1,0],[3,7,12,7],[3,7,14,7,3,7],[16,8],[1,0]]}}
 }
},
{
 "transform": [{"filter": {"field": "s", "oneOf": ["EXP TB","EXP Z","EXP K","EXP V"]}}],
 "mark": {"type": "point", "filled": true, "opacity": 1, "size": 11, "clip": true},
 "encoding": {
  "x": {"field": "x", "type": "quantitative", "scale": {"domain": [2,22], "nice": false, "zero": false},
   "axis": {"orient": "top", "values": [2,3,4,5,6,7,8,9,10,11,12,13,14,15,16,17,18,19,20,21,22], "labels": false, "ticks": true, "tickSize": -8, "tickDash": {"condition": {"test": "datum.value % 5 === 0", "value": [8,0]}, "value": [4,20]}, "tickColor": "black", "domain": false, "grid": false, "title": null}},
  "y": {"field": "y", "type": "quantitative", "scale": {"domain": [0,10], "nice": false, "zero": false},
   "axis": {"orient": "right", "values": [0,1,2,3,4,5,6,7,8,9,10], "labels": false, "ticks": true, "tickSize": -8, "tickDash": {"condition": {"test": "datum.value % 2 === 0", "value": [8,0]}, "value": [4,20]}, "tickColor": "black", "domain": false, "grid": false, "title": null}},
  "color": {"field": "s", "type": "nominal", "legend": null},
  "shape": {"field": "s", "type": "nominal", "scale": {"domain": ["EXP TB","EXP Z","EXP K","EXP V"], "range": ["diamond","square","triangle-up","circle"]}, "legend": null}
 }
},
{
 "transform": [{"filter": {"field": "s", "oneOf": ["KS-RPA","KS-RPA NLF","GW-RPA"]}}],
 "mark": {"type": "line", "clip": true, "interpolate": "monotone", "strokeWidth": 3.2},
 "encoding": {
  "x": {"field": "x", "type": "quantitative", "axis": null},
  "y": {"field": "y", "type": "quantitative", "axis": null},
  "color": {"field": "s", "type": "nominal"},
  "strokeDash": {"field": "s", "type": "nominal"}
 }
},
{
 "transform": [{"filter": {"field": "s", "equal": "BSE"}}],
 "mark": {"type": "line", "clip": true, "interpolate": "monotone", "strokeWidth": 3.4},
 "encoding": {
  "x": {"field": "x", "type": "quantitative", "axis": null},
  "y": {"field": "y", "type": "quantitative", "axis": null},
  "color": {"field": "s", "type": "nominal"},
  "strokeDash": {"field": "s", "type": "nominal"}
 }
},
{
 "data": {"values": [{}]},
 "mark": {"type": "text", "align": "left", "baseline": "alphabetic", "font": "Liberation Serif", "fontSize": 21, "color": "black"},
 "encoding": {"x": {"datum": 4.83, "type": "quantitative", "axis": null}, "y": {"datum": 8.96, "type": "quantitative", "axis": null}, "text": {"value": "graphite"}}
},
{
 "data": {"values": [{}]},
 "mark": {"type": "text", "align": "left", "baseline": "alphabetic", "font": "Liberation Serif", "fontSize": 15, "color": "black"},
 "encoding": {"x": {"datum": 4.83, "type": "quantitative", "axis": null}, "y": {"datum": 7.82, "type": "quantitative", "axis": null}, "text": {"value": "out-of-plane"}}
}
]
}
